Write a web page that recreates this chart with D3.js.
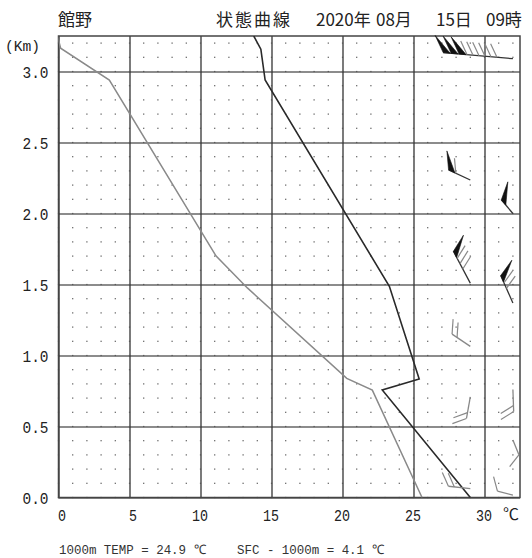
<!DOCTYPE html>
<html>
<head>
<meta charset="utf-8">
<script src="https://cdn.jsdelivr.net/npm/d3@7"></script>
<style>
  body { margin: 0; background: #fff; }
  svg { display: block; }
</style>
</head>
<body>
<div id="chart"></div>
<script>
const stationName = '館野';
const titleParts = ['状態曲線', '2020年', '08月', '15日', '09時'];
const titleX = [216, 316, 376, 436, 486];

// dark line: temperature (°C) against height (km)
const tempHeights = [0.0, 0.757, 0.834, 1.487, 2.94, 3.157, 3.25];
const tempValues = [29.0, 22.8, 25.4, 23.3, 14.55, 14.25, 13.75];

// grey line
const dewHeights = [0.0, 0.756, 0.839, 1.476, 1.70, 2.94, 3.164, 3.3];
const dewValues = [25.6, 22.1, 20.3, 13.3, 11.1, 3.58, 0.15, -0.2];

// wind barbs: height, column (°C position of base), direction, speed (pennant = 10, line = 1)
const windHeights = [3.09, 2.236, 2.0, 1.51, 1.37, 1.064, 0.76, 0.709, 0.405, 0.063, 0.016];
const windColumn = [32, 29, 32, 29, 32, 29, 32, 29, 32, 29, 32];
const windDir = [275, 295, 320, 332, 336, 304, 178, 190, 158, 276, 285];
const windSpeed = [36, 11, 10, 13, 12, 2, 2, 2, 1, 2, 1];

const xTicks = [0, 5, 10, 15, 20, 25, 30];
const yTicks = [0, 0.5, 1.0, 1.5, 2.0, 2.5, 3.0];
const footLeft = '1000m TEMP = 24.9 ℃';
const footRight = 'SFC - 1000m = 4.1 ℃';

const W = 532, H = 558;
const numFont = '"Liberation Mono", "DejaVu Sans Mono", monospace';
const jpFont = '"Noto Sans CJK JP", "Noto Sans", sans-serif';

const svg = d3.select('#chart').append('svg')
  .attr('width', W).attr('height', H);

const x = d3.scaleLinear().domain([0, 32.5]).range([58.5, 520]);
const y = d3.scaleLinear().domain([0, 3.25]).range([497.5, 36]);
const plotW = x(32.5) - x(0);
const plotH = y(0) - y(3.25);

// horizontal grid (grey)
svg.append('g')
  .attr('transform', `translate(${x(0)},0)`)
  .call(d3.axisLeft(y).tickValues(yTicks).tickSize(-plotW).tickFormat(''))
  .call(g => g.select('.domain').remove())
  .selectAll('line').attr('stroke', '#8c8c8c').attr('stroke-width', 2);

// vertical grid (dark)
svg.append('g')
  .attr('transform', `translate(0,${y(0)})`)
  .call(d3.axisBottom(x).tickValues(xTicks).tickSize(-plotH).tickFormat(''))
  .call(g => g.select('.domain').remove())
  .selectAll('line').attr('stroke', '#333').attr('stroke-width', 1.3);

// dot lattice, 1 °C by 0.1 km
const dotT = d3.range(0, 33);
const dotH = d3.range(0, 33).map(d => d / 10);
svg.append('g')
  .selectAll('g')
  .data(dotH)
  .join('g')
  .selectAll('rect')
  .data(h => dotT.map(t => ({ t, h })))
  .join('rect')
  .attr('x', d => x(d.t) - 0.6)
  .attr('y', d => y(d.h) - 0.6)
  .attr('width', 1.2)
  .attr('height', 1.2)
  .attr('fill', '#555');

// frame
svg.append('rect')
  .attr('x', x(0)).attr('y', y(3.25))
  .attr('width', plotW).attr('height', plotH)
  .attr('fill', 'none').attr('stroke', '#444').attr('stroke-width', 1.5);

// clip for curves
svg.append('clipPath').attr('id', 'plotclip')
  .append('rect')
  .attr('x', x(0)).attr('y', y(3.25))
  .attr('width', plotW).attr('height', plotH);

const line = d3.line().x(d => x(d[0])).y(d => y(d[1]));

svg.append('path')
  .datum(dewValues.map((v, i) => [v, dewHeights[i]]))
  .attr('clip-path', 'url(#plotclip)')
  .attr('d', line)
  .attr('fill', 'none').attr('stroke', '#8a8a8a').attr('stroke-width', 1.5);

svg.append('path')
  .datum(tempValues.map((v, i) => [v, tempHeights[i]]))
  .attr('clip-path', 'url(#plotclip)')
  .attr('d', line)
  .attr('fill', 'none').attr('stroke', '#2a2a2a').attr('stroke-width', 1.6);

// wind barbs
const winds = windHeights.map((h, i) => ({
  h, col: windColumn[i], dir: windDir[i], spd: windSpeed[i]
}));

const barbG = svg.append('g');
winds.forEach(w => {
  const bx = x(w.col), by = y(w.h);
  const rad = w.dir * Math.PI / 180;
  const ux = Math.sin(rad), uy = -Math.cos(rad);
  const fa = Math.atan2(uy, ux) + Math.PI / 3;
  const fx = Math.cos(fa), fy = Math.sin(fa);
  const pennants = Math.floor(w.spd / 10);
  const fulls = w.spd % 10;
  const pStep = 8, fStep = 6;
  const len = 10 + pennants * pStep + fulls * fStep;
  const at = d => [bx + ux * d, by + uy * d];
  const g = barbG.append('g');

  const tip = at(len);
  g.append('line')
    .attr('x1', bx).attr('y1', by).attr('x2', tip[0]).attr('y2', tip[1])
    .attr('stroke', pennants ? '#333' : '#888').attr('stroke-width', 1.3);

  let d = len;
  for (let k = 0; k < pennants; k++) {
    const p0 = at(d), p1 = at(d - pStep + 1);
    g.append('path')
      .attr('d', `M${p0[0]},${p0[1]}L${p0[0] + fx * 19},${p0[1] + fy * 19}L${p1[0]},${p1[1]}Z`)
      .attr('fill', '#111').attr('stroke', '#111').attr('stroke-width', 0.6);
    d -= pStep;
  }
  for (let k = 0; k < fulls; k++) {
    const p = at(d);
    g.append('line')
      .attr('x1', p[0]).attr('y1', p[1])
      .attr('x2', p[0] + fx * 15).attr('y2', p[1] + fy * 15)
      .attr('stroke', '#888').attr('stroke-width', 1.2);
    d -= fStep;
  }
});

// axis labels
const xAxisG = svg.append('g')
  .attr('transform', `translate(0,${y(0)})`)
  .call(d3.axisBottom(x).tickValues(xTicks).tickSize(0).tickFormat(d3.format('d')));
xAxisG.select('.domain').remove();
xAxisG.selectAll('text')
  .attr('y', 23).attr('dy', 0).attr('x', 7)
  .attr('text-anchor', 'end')
  .attr('font-family', numFont).attr('font-size', 17).attr('fill', '#222')
  .attr('textLength', d => String(d).length * 8)
  .attr('lengthAdjust', 'spacingAndGlyphs');

const yAxisG = svg.append('g')
  .attr('transform', `translate(${x(0)},0)`)
  .call(d3.axisLeft(y).tickValues(yTicks).tickSize(0).tickPadding(10).tickFormat(d3.format('.1f')));
yAxisG.select('.domain').remove();
yAxisG.selectAll('text')
  .attr('dy', '0.35em')
  .attr('font-family', numFont).attr('font-size', 16).attr('fill', '#222')
  .attr('textLength', 26)
  .attr('lengthAdjust', 'spacingAndGlyphs');

svg.append('text')
  .attr('x', 5).attr('y', 51)
  .attr('font-family', numFont).attr('font-size', 14).attr('fill', '#222')
  .attr('textLength', 35).attr('lengthAdjust', 'spacingAndGlyphs')
  .text('(Km)');

svg.append('text')
  .attr('x', 503).attr('y', 520)
  .attr('font-family', jpFont).attr('font-size', 16).attr('fill', '#222')
  .text('℃');

// title
svg.append('text')
  .attr('x', 58).attr('y', 26)
  .attr('font-family', jpFont).attr('font-size', 17).attr('fill', '#222')
  .text(stationName);

svg.append('g')
  .selectAll('text')
  .data(titleParts)
  .join('text')
  .attr('x', (d, i) => titleX[i]).attr('y', 26)
  .attr('font-family', jpFont).attr('font-size', 17).attr('fill', '#222')
  .attr('letter-spacing', (d, i) => i === 0 ? 2 : 0)
  .text(d => d);

// footer
svg.append('text')
  .attr('x', 59).attr('y', 554)
  .attr('font-family', numFont).attr('font-size', 13).attr('fill', '#333')
  .attr('textLength', 147).attr('lengthAdjust', 'spacingAndGlyphs')
  .text(footLeft);

svg.append('text')
  .attr('x', 237).attr('y', 554)
  .attr('font-family', numFont).attr('font-size', 13).attr('fill', '#333')
  .attr('textLength', 147).attr('lengthAdjust', 'spacingAndGlyphs')
  .text(footRight);
</script>
</body>
</html>
